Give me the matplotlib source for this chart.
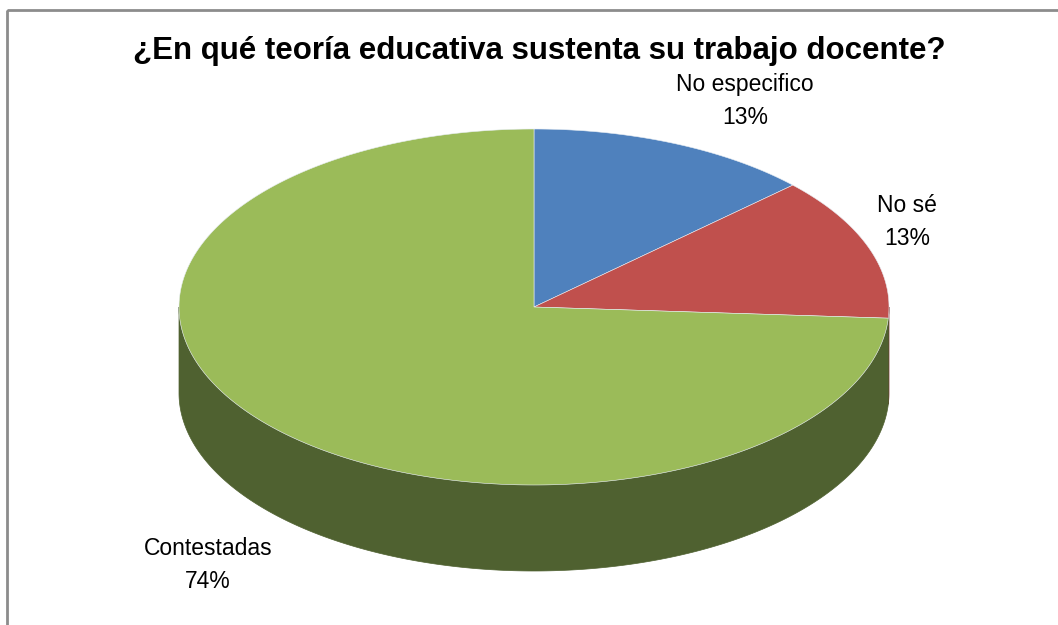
import numpy as np
import matplotlib.pyplot as plt
from matplotlib.patches import Polygon, Rectangle

plt.rcParams['font.family'] = ['Liberation Sans', 'DejaVu Sans']

# datos
labels = ['No especifico', 'No sé', 'Contestadas']
values = [13, 13, 74]
top_colors = ['#4F81BD', '#C0504D', '#9BBB59']
side_colors = ['#2F4D71', '#73302E', '#4F6130']

title = '¿En qué teoría educativa sustenta su trabajo docente?'

fig = plt.figure(figsize=(10.58, 6.25), dpi=100)
ax = fig.add_axes([0, 0, 1, 1])
ax.set_xlim(0, 1058)
ax.set_ylim(625, 0)
ax.axis('off')

# geometria del pastel 3D (en pixeles)
cx, cy = 534, 307
rx, ry = 355, 178
depth = 86


def rim(a0, a1, n=300):
    t = np.radians(np.linspace(a0, a1, n))
    return cx + rx * np.cos(t), cy - ry * np.sin(t)


fracs = np.array(values, dtype=float) / sum(values)
pct = np.round(fracs * 100).astype(int)
edges = 90 - 360 * np.concatenate([[0], np.cumsum(fracs)])

# paredes laterales (solo la mitad frontal, angulos entre -180 y 0)
for i in range(len(values)):
    a0, a1 = edges[i], edges[i + 1]
    hi, lo = min(a0, 0), max(a1, -180)
    if hi <= lo:
        continue
    x, y = rim(hi, lo)
    pts = np.column_stack([np.concatenate([x, x[::-1]]),
                           np.concatenate([y, y[::-1] + depth])])
    ax.add_patch(Polygon(pts, closed=True, facecolor=side_colors[i],
                         edgecolor=side_colors[i], lw=0.5))

# cara superior
for i in range(len(values)):
    x, y = rim(edges[i], edges[i + 1])
    pts = np.column_stack([np.concatenate([[cx], x]), np.concatenate([[cy], y])])
    ax.add_patch(Polygon(pts, closed=True, facecolor=top_colors[i],
                         edgecolor='#E8EEF4', lw=0.4))

# etiquetas
label_pos = [(745, 101), (907, 222), (208, 565)]
for lab, p, (lx, ly) in zip(labels, pct, label_pos):
    ax.text(lx, ly, f'{lab}\n{p}%', ha='center', va='center',
            fontsize=16.5, linespacing=1.6, color='black')

ax.text(539, 51, title, ha='center', va='center', fontsize=22.5,
        fontweight='bold', color='black')

# marco del grafico
ax.add_patch(Rectangle((7, 10), 1100, 700, fill=False,
                       edgecolor='#8C8C8C', lw=2))

fig.savefig('out.png', dpi=100)
